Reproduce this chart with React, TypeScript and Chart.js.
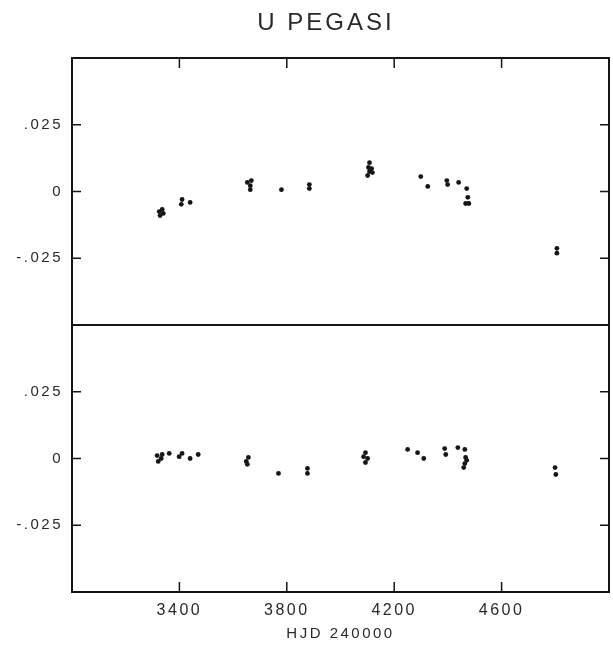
import React, { useEffect, useRef } from "react";
import { Chart, registerables } from "chart.js";

Chart.register(...registerables);

const chartTitle = "U PEGASI";
const xAxisTitle = "HJD 240000";
const xTickValues = [3400, 3800, 4200, 4600];
const yTickValues = [-0.025, 0, 0.025];

// Upper panel
const topX = [3325, 3336, 3340, 3328, 3407, 3410, 3440, 3653, 3668, 3664, 3664, 3780, 3884, 3884, 4108, 4104, 4116, 4108, 4119, 4101, 4112, 4299, 4325, 4396, 4399, 4440, 4470, 4474, 4466, 4478, 4806, 4806];
const topY = [-0.0075, -0.0067, -0.0082, -0.009, -0.0048, -0.003, -0.0041, 0.0034, 0.0041, 0.0022, 0.0007, 0.0007, 0.0026, 0.0011, 0.0108, 0.009, 0.0086, 0.0075, 0.0071, 0.006, 0.0082, 0.0056, 0.0019, 0.0041, 0.0026, 0.0034, 0.0011, -0.0022, -0.0045, -0.0045, -0.0213, -0.0231];

// Lower panel
const botX = [3317, 3336, 3332, 3321, 3362, 3399, 3410, 3440, 3470, 3657, 3649, 3653, 3769, 3877, 3877, 4093, 4086, 4101, 4093, 4250, 4287, 4310, 4388, 4392, 4437, 4463, 4466, 4470, 4463, 4459, 4799, 4802];
const botY = [0.0011, 0.0015, 0, -0.0011, 0.0019, 0.0007, 0.0019, 0, 0.0015, 0.0004, -0.0011, -0.0022, -0.0056, -0.0037, -0.0056, 0.0022, 0.0007, 0, -0.0015, 0.0034, 0.0022, 0, 0.0037, 0.0015, 0.0041, 0.0034, 0.0004, -0.0007, -0.0019, -0.0034, -0.0034, -0.006];

const INK = "#151515";
const TEXT = "#2a2a2a";
const FONT = '"Liberation Sans", Arial, sans-serif';

const fmtY = (v: number) => {
  if (v === 0) return "0";
  return v.toFixed(3).replace("0.", ".");
};

const framePlugin = {
  id: "frameAndTitle",
  beforeDraw(chart: any) {
    chart.ctx.letterSpacing = "2.5px";
  },
  afterDraw(chart: any) {
    const { ctx, chartArea, scales } = chart;
    const { left, right, top, bottom } = chartArea;
    const yT = scales.yTop;
    const yB = scales.yBot;
    const x = scales.x;
    ctx.save();
    ctx.strokeStyle = INK;
    ctx.lineWidth = 2;
    ctx.strokeRect(left, top, right - left, bottom - top);
    const mid = yT.bottom;
    ctx.beginPath();
    ctx.moveTo(left, mid);
    ctx.lineTo(right, mid);
    ctx.stroke();
    ctx.lineWidth = 1.5;
    ctx.beginPath();
    for (const v of xTickValues) {
      const px = x.getPixelForValue(v);
      ctx.moveTo(px, top);
      ctx.lineTo(px, top + 10);
      ctx.moveTo(px, bottom);
      ctx.lineTo(px, bottom - 10);
    }
    for (const sc of [yT, yB]) {
      for (const v of yTickValues) {
        const py = sc.getPixelForValue(v);
        ctx.moveTo(left, py);
        ctx.lineTo(left + 9, py);
        ctx.moveTo(right, py);
        ctx.lineTo(right - 9, py);
      }
    }
    ctx.stroke();
    ctx.fillStyle = TEXT;
    ctx.font = `24px ${FONT}`;
    ctx.letterSpacing = "3px";
    ctx.textAlign = "center";
    ctx.textBaseline = "middle";
    ctx.fillText(chartTitle, 326, 23);
    ctx.restore();
  },
};

export default function App() {
  const ref = useRef<HTMLCanvasElement | null>(null);
  useEffect(() => {
    if (!ref.current) return;
    const yScale = (weight: number) => ({
      type: "linear" as const,
      position: "left" as const,
      stack: "panels",
      stackWeight: 1,
      weight,
      min: -0.05,
      max: 0.05,
      grid: { display: false, drawTicks: false },
      border: { display: false },
      afterBuildTicks: (s: any) => {
        s.ticks = yTickValues.map((v) => ({ value: v }));
      },
      afterFit: (s: any) => {
        s.width = 64;
      },
      ticks: {
        padding: 9,
        color: TEXT,
        font: { family: FONT, size: 15 },
        callback: (v: any) => fmtY(Number(v)),
      },
    });
    const chart = new Chart(ref.current, {
      type: "scatter",
      data: {
        datasets: [
          {
            label: "top",
            data: topX.map((x, i) => ({ x, y: topY[i] })),
            xAxisID: "x",
            yAxisID: "yTop",
            backgroundColor: INK,
            borderColor: INK,
            pointRadius: 2.4,
            borderWidth: 0,
          },
          {
            label: "bottom",
            data: botX.map((x, i) => ({ x, y: botY[i] })),
            xAxisID: "x",
            yAxisID: "yBot",
            backgroundColor: INK,
            borderColor: INK,
            pointRadius: 2.4,
            borderWidth: 0,
          },
        ],
      },
      options: {
        animation: false,
        responsive: false,
        layout: { padding: { left: 8, right: 4, top: 58, bottom: 0 } },
        plugins: {
          legend: { display: false },
          title: { display: false },
          tooltip: { enabled: false },
        },
        scales: {
          x: {
            type: "linear",
            position: "bottom",
            min: 3000,
            max: 5000,
            grid: { display: false, drawTicks: false },
            border: { display: false },
            afterBuildTicks: (s: any) => {
              s.ticks = xTickValues.map((v) => ({ value: v }));
            },
            afterFit: (s: any) => {
              s.height = 56;
            },
            ticks: {
              padding: 9,
              color: TEXT,
              maxRotation: 0,
              font: { family: FONT, size: 16 },
              callback: (v: any) => String(v),
            },
            title: {
              display: true,
              text: xAxisTitle,
              color: TEXT,
              font: { family: FONT, size: 15 },
              padding: { top: 0, bottom: 5 },
            },
          },
          yTop: yScale(1),
          yBot: yScale(0),
        },
      } as any,
      plugins: [framePlugin],
    });
    return () => chart.destroy();
  }, []);
  return (
    <div style={{ position: "fixed", left: 0, top: 0, width: 613, height: 648, background: "#fff" }}>
      <canvas ref={ref} width={613} height={648} style={{ display: "block" }} />
    </div>
  );
}
